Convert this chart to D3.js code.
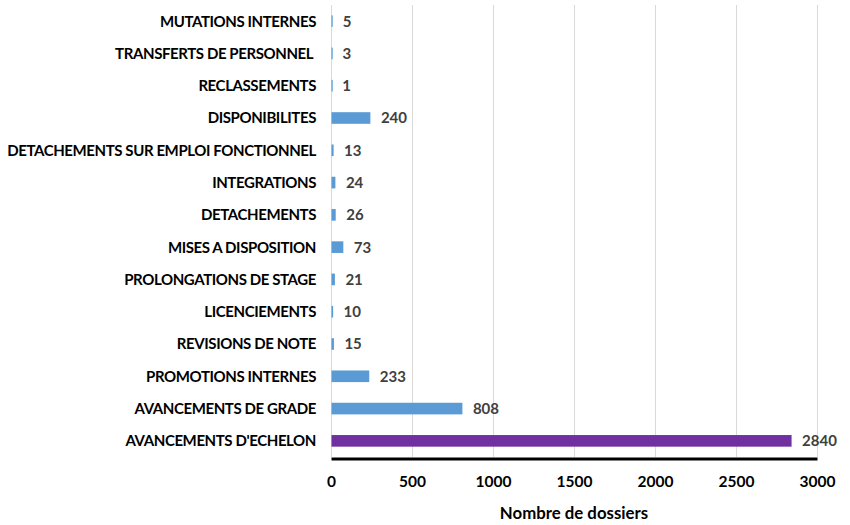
<!DOCTYPE html>
<html>
<head>
<meta charset="utf-8">
<script src="https://cdn.jsdelivr.net/npm/d3@7"></script>
<style>
  body { margin: 0; background: #fff; }
  text { font-family: Lato, "Open Sans", sans-serif; font-weight: bold; }
</style>
</head>
<body>
<div class="chart"></div>
<script>
// data
const categories = [
  "MUTATIONS INTERNES",
  "TRANSFERTS DE PERSONNEL ",
  "RECLASSEMENTS",
  "DISPONIBILITES",
  "DETACHEMENTS SUR EMPLOI FONCTIONNEL",
  "INTEGRATIONS",
  "DETACHEMENTS",
  "MISES A DISPOSITION",
  "PROLONGATIONS DE STAGE",
  "LICENCIEMENTS",
  "REVISIONS DE NOTE",
  "PROMOTIONS INTERNES",
  "AVANCEMENTS DE GRADE",
  "AVANCEMENTS D'ECHELON"
];
const values = [5, 3, 1, 240, 13, 24, 26, 73, 21, 10, 15, 233, 808, 2840];
const xTicks = [0, 500, 1000, 1500, 2000, 2500, 3000];
const axisTitle = "Nombre de dossiers";

//constants
const width = 850;
const height = 525;
const margin = {top: 5, right: 33, bottom: 68, left: 331};

const svg = d3.select(".chart")
  .append("svg")
  .attr("width", width)
  .attr("height", height);

const x = d3.scaleLinear()
  .domain([0, 3000])
  .range([margin.left, width - margin.right]);

const y = d3.scaleBand()
  .domain(categories)
  .range([margin.top, height - margin.bottom])
  .paddingInner(0.64)
  .paddingOuter(0.32);

// vertical gridlines
svg.append("g")
  .selectAll("line")
  .data(xTicks)
  .enter()
  .append("line")
  .attr("x1", d => x(d) + 0.5)
  .attr("x2", d => x(d) + 0.5)
  .attr("y1", margin.top)
  .attr("y2", height - margin.bottom)
  .attr("stroke", "#d9d9d9")
  .attr("stroke-width", 1);

// bars
svg.append("g")
  .selectAll("rect")
  .data(values)
  .enter()
  .append("rect")
  .attr("x", x(0) + 0.5)
  .attr("y", (d, i) => y(categories[i]))
  .attr("width", d => Math.max(x(d) - x(0), 1.2))
  .attr("height", y.bandwidth())
  .attr("fill", (d, i) => i === values.length - 1 ? "#7030A0" : "#5B9BD5");

// value labels
svg.append("g")
  .selectAll("text")
  .data(values)
  .enter()
  .append("text")
  .attr("x", d => x(d) + 11)
  .attr("y", (d, i) => y(categories[i]) + y.bandwidth() / 2)
  .attr("dy", "0.36em")
  .attr("fill", "#404040")
  .style("font-size", "15px")
  .text(d => d);

// category labels (slightly tightened so the long ones fit like the original)
svg.append("g")
  .selectAll("text")
  .data(categories)
  .enter()
  .append("text")
  .attr("x", margin.left - 15)
  .attr("y", d => y(d) + y.bandwidth() / 2)
  .attr("dy", "0.36em")
  .attr("text-anchor", "end")
  .attr("fill", "#000")
  .style("font-size", "15px")
  .style("letter-spacing", "-0.4px")
  .style("white-space", "pre")
  .text(d => d);

// bottom axis
const xAxis = svg.append("g")
  .attr("transform", `translate(0,${height - margin.bottom + 1.5})`)
  .call(d3.axisBottom(x).tickValues(xTicks).tickFormat(d3.format("d")).tickSize(0).tickPadding(17));
xAxis.select(".domain")
  .attr("stroke", "#000")
  .attr("stroke-width", 3);
xAxis.selectAll("text")
  .attr("fill", "#000")
  .style("font-size", "15.5px");

// axis title
svg.append("text")
  .attr("x", (x(0) + x(3000)) / 2)
  .attr("y", 513)
  .attr("dy", "0.36em")
  .attr("text-anchor", "middle")
  .attr("fill", "#000")
  .style("font-size", "16.8px")
  .text(axisTitle);
</script>
</body>
</html>
